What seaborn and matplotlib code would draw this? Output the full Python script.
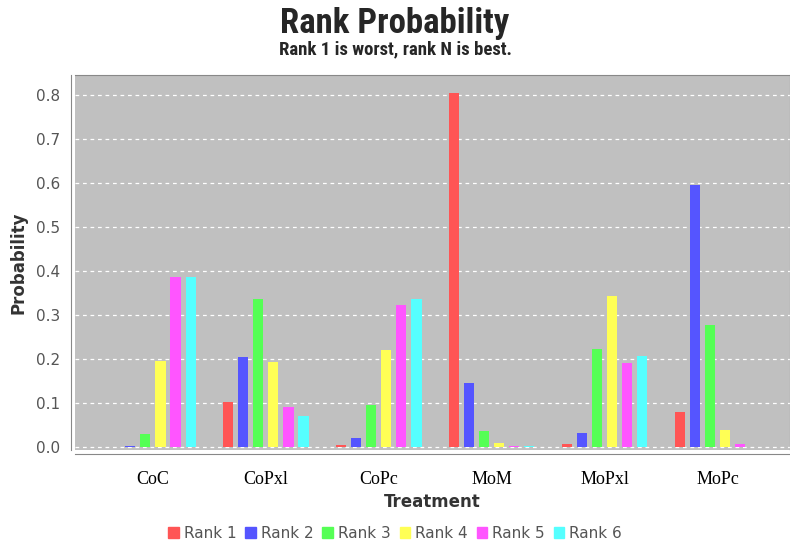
import numpy as np
import pandas as pd
import seaborn as sns
import matplotlib.pyplot as plt
from matplotlib import font_manager

treatments = ['CoC', 'CoPxl', 'CoPc', 'MoM', 'MoPxl', 'MoPc']
ranks = ['Rank 1', 'Rank 2', 'Rank 3', 'Rank 4', 'Rank 5', 'Rank 6']
rank1 = [0.000, 0.103, 0.005, 0.805, 0.006, 0.079]
rank2 = [0.003, 0.205, 0.021, 0.145, 0.032, 0.595]
rank3 = [0.029, 0.336, 0.095, 0.037, 0.223, 0.277]
rank4 = [0.195, 0.192, 0.220, 0.008, 0.342, 0.039]
rank5 = [0.386, 0.091, 0.323, 0.002, 0.190, 0.007]
rank6 = [0.386, 0.070, 0.335, 0.001, 0.207, 0.000]
colors = ['#FF5555', '#5555FF', '#55FF55', '#FFFF55', '#FF55FF', '#55FFFF']

rows = []
for r, vals in zip(ranks, [rank1, rank2, rank3, rank4, rank5, rank6]):
    for t, v in zip(treatments, vals):
        rows.append({'Treatment': t, 'Rank': r, 'Probability': v})
df = pd.DataFrame(rows)

installed = {f.name for f in font_manager.fontManager.ttflist}


def pick(*names):
    for n in names:
        if n in installed:
            return n
    return 'DejaVu Sans'


narrow = pick('Liberation Sans Narrow', 'Roboto Condensed', 'Liberation Sans', 'Arial')
serif = pick('Liberation Serif', 'Times New Roman', 'DejaVu Serif')

sns.set_style('white')

fig = plt.figure(figsize=(7.9, 5.43), dpi=100)
ax = fig.add_axes([75 / 790, 1 - 450 / 543, 715 / 790, 375 / 543])
ax.set_facecolor('#C0C0C0')

sns.barplot(data=df, x='Treatment', y='Probability', hue='Rank',
            order=treatments, hue_order=ranks, palette=colors,
            width=0.8, gap=0.33, saturation=1, linewidth=0, ax=ax, legend=False)

ax.set_ylim(-0.007, 0.845)
ax.set_xlim(-0.69, 5.64)
ax.set_yticks(np.arange(0, 0.81, 0.1))
ax.set_yticklabels(['%.1f' % v for v in np.arange(0, 0.81, 0.1)])
ax.set_xticks(range(len(treatments)))
ax.set_xticklabels(treatments)
ax.yaxis.grid(True, color='white', linestyle=(0, (3, 3)), linewidth=0.9)
ax.set_axisbelow(True)

ax.tick_params(axis='both', length=4, color='#777777', direction='out')
ax.tick_params(axis='y', labelsize=11, labelcolor='#555555')
ax.tick_params(axis='x', pad=8, labelsize=13, labelcolor='black',
               labelfontfamily=serif)

for s in ['top', 'right']:
    ax.spines[s].set_color('#888888')
for s in ['left', 'bottom']:
    ax.spines[s].set_position(('outward', 3))
    ax.spines[s].set_color('#888888')

ax.set_xlabel('Treatment', fontsize=12, color='#333333', fontweight='bold', labelpad=4)
ax.set_ylabel('Probability', fontsize=12, color='#333333', fontweight='bold', labelpad=6)

fig.text(0.5, 1 - 23 / 543, 'Rank Probability', ha='center', va='center',
         fontsize=25, fontweight='bold', fontfamily=narrow)
fig.text(0.5, 1 - 49 / 543, 'Rank 1 is worst, rank N is best.', ha='center',
         va='center', fontsize=13.5, fontweight='bold', fontfamily=narrow)

handles = [plt.Rectangle((0, 0), 1, 1, color=c) for c in colors]
fig.legend(handles, ranks, loc='center', bbox_to_anchor=(0.5, 1 - 533 / 543),
           ncol=6, frameon=False, fontsize=11, handlelength=0.7, handleheight=0.7,
           handletextpad=0.3, columnspacing=0.6, labelcolor='#555555')

fig.savefig('out.png', dpi=100)
